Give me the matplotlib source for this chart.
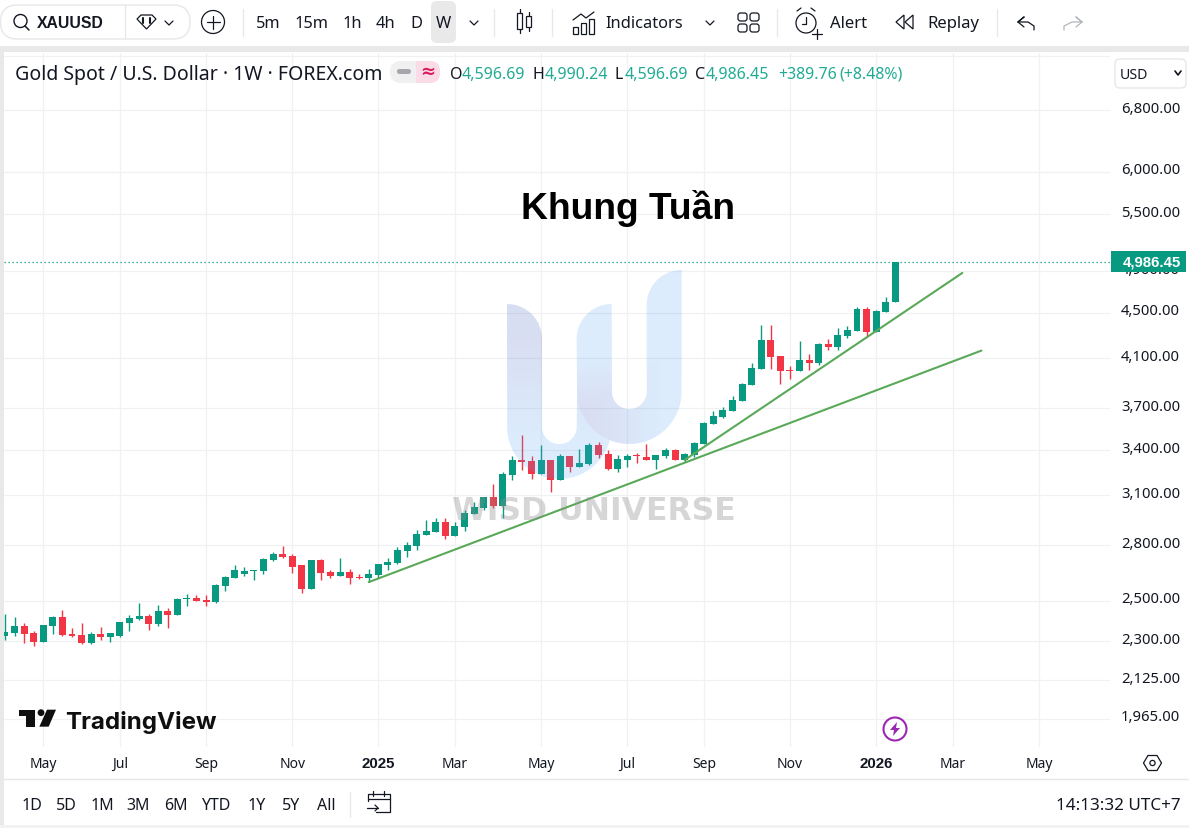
import numpy as np
import pandas as pd
import matplotlib
matplotlib.use('Agg')
import matplotlib.pyplot as plt
import matplotlib.dates as mdates
from matplotlib.patches import Rectangle, FancyBboxPatch, Circle, Polygon
from matplotlib.path import Path
from matplotlib.ticker import NullFormatter, NullLocator
from matplotlib.transforms import ScaledTranslation

# ---------- data ----------
first_week = '2024-04-08'
opens = [2327,2340,2374,2340,2297,2374,2418,2335,2331,2293,2335,2321,2326,2388,2408,2423,2383,2448,2428,2510,
         2513,2503,2493,2576,2618,2640,2658,2656,2716,2749,2738,2688,2560,2716,2650,2629,2650,2623,2620,2634,
         2688,2698,2766,2795,2858,2876,2935,2852,2905,2983,3020,3089,3032,3230,3331,3324,3237,3331,3198,3358,
         3284,3304,3434,3372,3270,3331,3363,3351,3331,3358,3400,3331,3365,3441,3585,3636,3681,3757,3882,4011,
         4255,4119,4003,3994,4085,4060,4221,4195,4290,4334,4533,4325,4505,4596.69]
closes = [2345,2374,2335,2297,2379,2418,2331,2326,2293,2335,2321,2340,2393,2413,2423,2383,2448,2428,2508,2513,
          2500,2495,2581,2623,2661,2656,2661,2722,2749,2733,2677,2560,2716,2645,2629,2650,2618,2618,2640,2694,
          2705,2772,2800,2864,2882,2935,2852,2911,2989,3026,3089,3032,3237,3331,3317,3237,3331,3198,3358,3284,
          3311,3434,3365,3270,3338,3358,3358,3331,3365,3400,3331,3372,3449,3592,3644,3689,3765,3890,4019,4255,
          4110,3994,3997,4085,4060,4221,4195,4299,4343,4533,4325,4515,4598,4986.45]
highs = [2433,2418,2387,2348,2379,2421,2453,2364,2388,2343,2367,2340,2393,2428,2488,2433,2478,2463,2512,2534,
         2529,2529,2586,2629,2688,2677,2661,2725,2761,2795,2749,2688,2716,2722,2661,2727,2667,2640,2667,2694,
         2727,2789,2816,2888,2947,2959,2959,2935,3008,3057,3089,3172,3250,3358,3505,3358,3434,3331,3372,3358,
         3407,3449,3456,3400,3365,3372,3379,3441,3365,3414,3407,3379,3456,3600,3681,3711,3796,3898,4060,4387,
         4387,4119,4035,4247,4135,4229,4264,4361,4379,4552,4552,4524,4646,4990.24]
lows = [2307,2327,2294,2279,2297,2335,2327,2321,2290,2288,2307,2297,2321,2350,2403,2354,2374,2364,2428,2473,
        2498,2473,2490,2550,2618,2629,2607,2640,2710,2727,2645,2539,2560,2607,2618,2629,2586,2613,2597,2618,
        2661,2694,2733,2772,2858,2876,2835,2852,2882,2983,3008,3020,2959,3198,3264,3204,3237,3120,3198,3250,
        3284,3297,3345,3264,3250,3284,3311,3331,3270,3345,3331,3317,3354,3441,3585,3629,3681,3757,3882,4011,
        4011,3890,3930,3994,4003,4044,4169,4169,4273,4334,4281,4325,4505,4596.69]
price_ticks = [7600,6800,6000,5500,4900,4500,4100,3700,3400,3100,2800,2500,2300,2125,1965]
price_labels = ['','6,800.00','6,000.00','5,500.00','4,900.00','4,500.00','4,100.00','3,700.00','3,400.00',
                '3,100.00','2,800.00','2,500.00','2,300.00','2,125.00','1,965.00']
time_ticks = ['2024-05-06','2024-07-01','2024-09-02','2024-11-04','2025-01-06','2025-03-03','2025-05-05',
              '2025-07-07','2025-09-01','2025-11-03','2026-01-05','2026-03-02','2026-05-04']
time_labels = ['May','Jul','Sep','Nov','2025','Mar','May','Jul','Sep','Nov','2026','Mar','May']
trend_a_dates = ['2024-12-30','2026-03-23']
trend_a_prices = [2596,4164]
trend_b_dates = ['2025-08-18','2026-03-09']
trend_b_prices = [3331,4879]
last_close = 4986.45

UP, DOWN = '#089981', '#f23645'
TEAL = '#22ab94'
INK = '#131722'
LINE = '#e6e7ea'
GRID = '#f0f1f3'
BOLD = 'Liberation Sans'
W, H = 1189, 829
plt.rcParams['font.family'] = ['Noto Sans', 'DejaVu Sans']

fig = plt.figure(figsize=(W/100, H/100), dpi=100, facecolor='white')

# ---------- chart ----------
ax = fig.add_axes([4/W, 1-748/H, (1110-4)/W, (748-54)/H], zorder=2)
ax.set_yscale('log')
dates = mdates.date2num(pd.date_range(first_week, periods=len(opens), freq='7D'))
d0 = dates[0]
ax.set_xlim(d0-0.73, d0+808.0)
ax.set_ylim(1854.2, 7643)
o, c, h, l = map(np.array, (opens, closes, highs, lows))
colors = np.where(c >= o, UP, DOWN)
ax.vlines(dates, l, h, colors=colors, linewidth=1.0, zorder=3)
ax.bar(dates, np.maximum(np.abs(c-o), 0.1), bottom=np.minimum(o, c), width=5.1, color=colors, linewidth=0, zorder=4)
ax.plot(mdates.date2num(pd.to_datetime(trend_a_dates)), trend_a_prices, color='#5aa958', lw=1.5, zorder=5, solid_capstyle='round')
ax.plot(mdates.date2num(pd.to_datetime(trend_b_dates)), trend_b_prices, color='#5aa958', lw=1.5, zorder=5, solid_capstyle='round')
ax.axhline(last_close, color=UP, lw=0.9, ls=(0, (1, 2.2)), zorder=2)

ax.yaxis.set_major_locator(matplotlib.ticker.FixedLocator(price_ticks))
ax.yaxis.set_minor_locator(NullLocator())
ax.yaxis.set_minor_formatter(NullFormatter())
ax.set_yticklabels(price_labels)
ax.yaxis.tick_right()
ax.set_xticks(mdates.date2num(pd.to_datetime(time_ticks)))
ax.set_xticklabels(time_labels)
ax.tick_params(axis='both', length=0)
ax.tick_params(axis='y', pad=8, labelsize=10.7, labelcolor=INK)
ax.tick_params(axis='x', pad=6.5, labelsize=10, labelcolor=INK)
shift = ScaledTranslation(0, 2.7/72, fig.dpi_scale_trans)
for lb in ax.get_yticklabels():
    lb.set_transform(lb.get_transform() + shift)
for lb, txt in zip(ax.get_xticklabels(), time_labels):
    if txt.isdigit():
        lb.set_fontweight('bold')
        lb.set_fontfamily(BOLD)
        lb.set_fontsize(10.8)
ax.grid(True, color=GRID, lw=0.9)
ax.set_axisbelow(True)
for s in ax.spines.values():
    s.set_visible(False)
ax.patch.set_alpha(0)

# ---------- overlay in pixels ----------
ov = fig.add_axes([0, 0, 1, 1], zorder=5)
ov.set_xlim(0, W); ov.set_ylim(H, 0); ov.axis('off'); ov.patch.set_alpha(0)

def T(x, y, s, size=11, ha='left', color=INK, weight='normal', z=10, dy=1.5, **kw):
    return ov.text(x, y+dy, s, fontsize=size, ha=ha, va='center', color=color, fontweight=weight, zorder=z, **kw)
def R(x0, y0, x1, y1, fc='none', ec='none', lw=1, rad=0, z=6):
    if rad:
        p = FancyBboxPatch((x0+rad, y0+rad), x1-x0-2*rad, y1-y0-2*rad, boxstyle=f'round,pad={rad},rounding_size={rad}', fc=fc, ec=ec, lw=lw, zorder=z)
    else:
        p = Rectangle((x0, y0), x1-x0, y1-y0, fc=fc, ec=ec, lw=lw, zorder=z)
    ov.add_patch(p); return p
def L(xs, ys, color=INK, lw=0.9, z=10, **kw):
    ov.plot(xs, ys, color=color, lw=lw, zorder=z, solid_capstyle='round', **kw)
def arc(cx, cy, r, a0, a1, n=40):
    a = np.radians(np.linspace(a0, a1, n))
    return np.c_[cx+r*np.cos(a), cy+r*np.sin(a)]

# ---------- frame ----------
GREY = '#e9e9ea'
R(0, 47, W, 53, fc=GREY)
R(0, 47, 4, 829, fc=GREY)
L([4, W], [780, 780], color=LINE, lw=1.0)
R(0, 826, W, 829, fc='#f2f2f2')

# ---------- watermark ----------
def zx(v): return 440+v/3
def zy(v): return 260+v/3
RI = 17.4; RO = 52.3
cxA, cyA = zx(358), zy(503)
cxB, cyB = zx(568), zy(398)
x_a, x_c, x_d, x_f = zx(201), zx(411), zx(515), zx(725)
shapeA = np.vstack([
    arc(x_a, zy(240), 35, -90, 0),
    arc(cxA, cyA, RI, 180, 0),
    arc(cxB, cyB, RO, 180, 111.8),
    arc(cxA, cyA, RO, 15, 180),
])
shapeB = np.vstack([
    arc(x_d, zy(240), 35, -90, -180),
    arc(cxB, cyB, RO, 180, 0),
    arc(x_f, zy(138), 35, -90, -180),
    arc(cxB, cyB, RI, 0, 180),
])
gx, gy = np.meshgrid(np.linspace(500, 690, 190), np.linspace(265, 490, 225))
def grad(t):
    t = t[..., None]
    blue = np.array([80, 160, 240, 0.2*255])/255
    lav = np.array([65, 90, 195, 0.2*255])/255
    return lav*(1-t)+blue*t
tA = np.clip((gy-340)/100, 0, 1)
tB = np.clip(np.maximum((gx-590)/70, (410-gy)/50), 0, 1)
for shape, t in ((shapeA, tA), (shapeB, tB)):
    im = ov.imshow(grad(t), extent=(500, 690, 490, 265), zorder=7, aspect='auto', interpolation='bilinear')
    im.set_clip_path(Path(shape, closed=True), transform=ov.transData)
ov.set_xlim(0, W); ov.set_ylim(H, 0)
T(594, 509.5, 'WISD UNIVERSE', size=22.7, ha='center', color='#8c8c8c', weight='bold', family='DejaVu Sans', alpha=0.35, z=8)

# ---------- title ----------
T(628, 207, 'Khung Tuần', size=26.8, ha='center', color='black', weight='bold', family=BOLD)

# ---------- top toolbar ----------
R(0.5, 6, 190, 40, ec=LINE, rad=17, lw=1.0)
ov.add_patch(Circle((20.5, 22), 6.5, fc='none', ec=INK, lw=1.0, zorder=10))
L([25, 29], [27, 31], lw=1.1)
T(37, 22.5, 'XAUUSD', size=11.3, weight='bold', family=BOLD, dy=0.5)
L([125, 125], [6, 40], color=LINE)
ov.add_patch(Polygon([[137, 20], [141, 16], [152, 16], [156, 20], [146.5, 30]], fc='none', ec=INK, lw=0.9, zorder=10))
L([143, 143], [19, 24], lw=1.5); L([150, 150], [19, 24], lw=1.5)
def chev(x, y, s=4, color=INK, lw=0.9):
    L([x-s, x, x+s], [y-2, y+2, y-2], color=color, lw=lw)
chev(169, 24)
ov.add_patch(Circle((213, 23), 11.5, fc='none', ec=INK, lw=0.9, zorder=10))
L([206.5, 219.5], [23, 23]); L([213, 213], [16.5, 29.5])
for x in (243, 494, 552, 777, 997):
    L([x, x], [10, 37], color=LINE)
R(431, 2, 456, 44, fc=GREY, rad=6)
for s, x in zip(['5m', '15m', '1h', '4h', 'D', 'W'], [268, 311, 352, 386, 416, 443]):
    T(x, 22.5, s, size=11.8, ha='center')
chev(474, 24)
R(517, 14, 522, 30, ec=INK, lw=0.9); L([519.5, 519.5], [10, 14]); L([519.5, 519.5], [30, 34])
R(526, 17, 531, 28, ec=INK, lw=0.9); L([528.5, 528.5], [13, 17]); L([528.5, 528.5], [28, 32])
for x0, y0 in ((573, 28), (581, 24), (589, 20)):
    R(x0, y0, x0+5, 35, ec=INK, lw=0.9)
L([573, 581, 586, 594], [21, 15, 19, 13])
T(605, 22.5, 'Indicators', size=11.8)
chev(710, 24)
for x0, y0 in ((738, 14), (750, 14), (738, 25), (750, 25)):
    R(x0, y0, x0+9, y0+8, ec=INK, rad=2.5, lw=0.9)
ov.add_patch(Circle((806, 24), 10, fc='none', ec=INK, lw=0.9, zorder=10))
L([806, 806, 802], [18, 25, 25]); L([797, 801], [12, 9]); L([815, 811], [12, 9])
R(811, 28, 822, 40, fc='white', z=9)
L([812, 822], [35, 35]); L([817, 817], [30, 40])
T(830, 22.5, 'Alert', size=12)
ov.add_patch(Polygon([[896, 23], [904, 16], [904, 30]], fc='none', ec=INK, lw=0.9, zorder=10))
ov.add_patch(Polygon([[905, 23], [913, 16], [913, 30]], fc='none', ec=INK, lw=0.9, zorder=10))
T(927, 22.5, 'Replay', size=12)
L([1018, 1024, 1018, 1028, 1034, 1034], [23, 18, 23, 23, 27, 31])
L([1018, 1024], [23, 28])
L([1082, 1076, 1082, 1072, 1064, 1064], [23, 18, 23, 23, 27, 31], color='#b2b5be')
L([1082, 1076], [23, 28], color='#b2b5be')

# ---------- legend row ----------
T(15, 73, 'Gold Spot / U.S. Dollar · 1W · FOREX.com', size=14.05)
R(390, 62, 440, 84, fc='#f0f0f1', rad=11)
R(416, 62, 440, 84, fc='#fbdbe6', rad=10)
R(416, 62, 425, 84, fc='#fbdbe6')
R(397, 70, 411, 75, fc='#a5a7ad', rad=2.4, z=8)
T(427.5, 72, '≈', size=13, ha='center', color='#d81b60', weight='bold', family='DejaVu Sans', dy=0)
for x, s, col in [(450, 'O', INK), (461.5, '4,596.69', TEAL), (533, 'H', INK), (545, '4,990.24', TEAL),
                  (615, 'L', INK), (625, '4,596.69', TEAL), (695, 'C', INK), (706, '4,986.45', TEAL),
                  (778, '+389.76', TEAL), (839, '(+8.48%)', TEAL)]:
    T(x, 73, s, size=11.5, color=col)
R(1115, 60, 1186, 89, fc='white', ec=LINE, rad=5)
T(1120, 74, 'USD', size=10.2)
chev(1178, 74, s=3, lw=1.2)

# ---------- last price ----------
R(1111, 252, 1186, 273, fc=UP)
T(1151.5, 262, '4,986.45', size=10.8, ha='center', color='white', weight='bold', family=BOLD, dy=0.5)

# ---------- TradingView logo ----------
def lx(v): return v/3
def ly(v): return 700+v/3
tv = '#0f0f0f'
ov.add_patch(Polygon([[lx(57), ly(32)], [lx(106), ly(32)], [lx(106), ly(83)], [lx(79), ly(83)], [lx(79), ly(51)], [lx(57), ly(51)]], fc=tv, ec='none', zorder=10))
ov.add_patch(Circle((lx(123), ly(41)), 3.4, fc=tv, ec='none', zorder=10))
ov.add_patch(Polygon([[lx(141), ly(32)], [lx(168), ly(32)], [lx(146), ly(83)], [lx(118), ly(83)]], fc=tv, ec='none', zorder=10))
T(65.5, 720.5, 'TradingView', size=17.4, color=tv, weight='bold', family='Inter')

# ---------- purple event ----------
ov.add_patch(Circle((895, 730), 11.5, fc='white', ec='#9c27b0', lw=1.5, zorder=10))
ov.add_patch(Polygon([[897, 723], [890, 731], [894, 731], [893, 737], [900, 729], [896, 729]], fc='#9c27b0', ec='none', zorder=11))

# ---------- settings ----------
ov.add_patch(Polygon([[1143.5, 764], [1148, 756.5], [1157, 756.5], [1161.5, 764], [1157, 771.5], [1148, 771.5]], fc='none', ec=INK, lw=0.9, zorder=10))
ov.add_patch(Circle((1152.5, 764), 2.6, fc='none', ec=INK, lw=0.9, zorder=10))

# ---------- bottom toolbar ----------
for s, x in zip(['1D', '5D', '1M', '3M', '6M', 'YTD', '1Y', '5Y', 'All'], [32, 66, 102, 138, 176, 216, 257, 291, 326]):
    T(x, 804.5, s, size=11.5, ha='center')
L([350, 350], [793, 818], color=LINE)
L([367.5, 367.5, 389.5, 389.5, 376], [802, 795, 795, 813, 813])
L([367.5, 389.5], [799.5, 799.5]); L([373, 373], [792, 797]); L([384, 384], [792, 797])
L([367, 378], [809, 809]); L([375, 378, 375], [806, 809, 812])
T(1181, 804.5, '14:13:32 UTC+7', size=12.3, ha='right')

fig.savefig('out.png', dpi=100)
